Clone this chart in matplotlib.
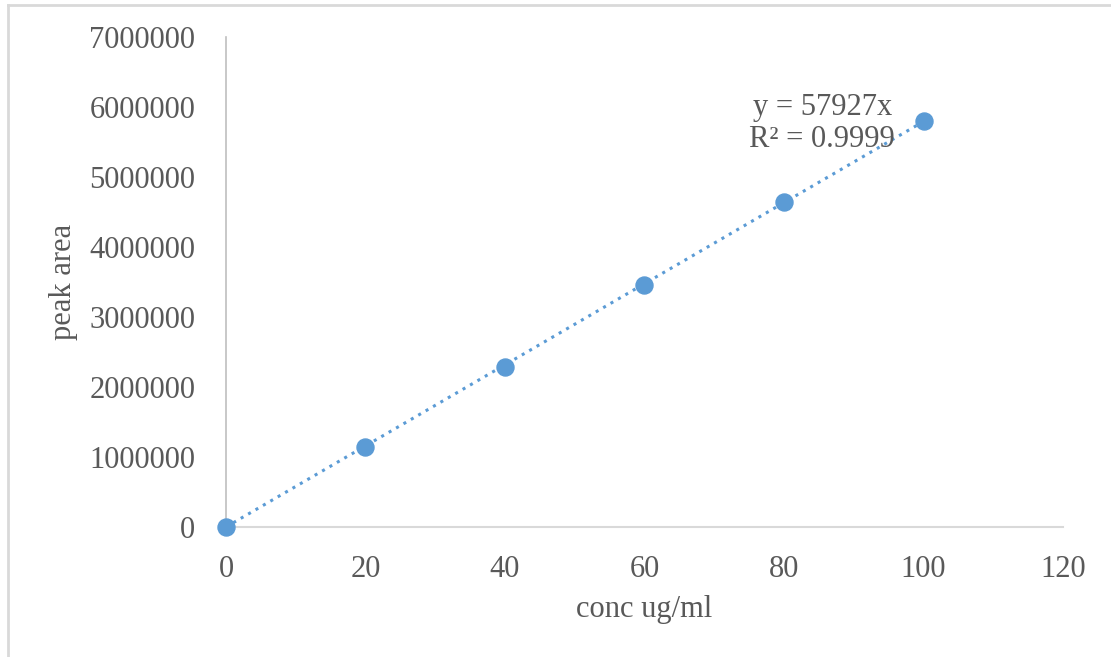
import numpy as np
import matplotlib
matplotlib.use('Agg')
import matplotlib.pyplot as plt
from matplotlib.lines import Line2D

# datos de la curva de calibración
conc = [0, 20, 40, 60, 80, 100]
area = [0, 1140000, 2285000, 3450000, 4640000, 5800000]
pendiente = 57927
r2 = 0.9999
xticks = [0, 20, 40, 60, 80, 100, 120]
yticks = [0, 1000000, 2000000, 3000000, 4000000, 5000000, 6000000, 7000000]

plt.rcParams['font.family'] = ['Liberation Serif', 'DejaVu Serif']
gris = '#595959'
azul = '#5B9BD5'

fig = plt.figure(figsize=(11.11, 6.57), dpi=100)
ax = fig.add_axes([0.2034, 0.1979, 0.7534, 0.7458])

# línea de tendencia por el origen
xt = np.array([0, 100])
ax.plot(xt, pendiente * xt, color=azul, lw=2.2, ls=(0, (1, 1.8)), clip_on=False)
ax.scatter(conc, area, s=150, color=azul, zorder=3, clip_on=False)

ax.set_xlim(0, 120)
ax.set_ylim(0, 7000000)
ax.set_xticks(xticks)
ax.set_yticks(yticks)
ax.set_xticklabels([str(v) for v in xticks])
ax.set_yticklabels([str(v) for v in yticks])
ax.tick_params(length=0, labelsize=22, labelcolor=gris)
ax.tick_params(axis='x', pad=20)
ax.tick_params(axis='y', pad=22)

for s in ['top', 'right']:
    ax.spines[s].set_visible(False)
ax.spines['left'].set_color('#BFBFBF')
ax.spines['bottom'].set_color('#D9D9D9')
ax.spines['left'].set_linewidth(1.2)
ax.spines['bottom'].set_linewidth(1.5)

ax.set_xlabel('conc ug/ml', fontsize=22, color=gris, labelpad=8)
ax.set_ylabel('peak area', fontsize=22, color=gris, labelpad=8)

ax.text(85.5, 5760000, 'y = %dx\nR² = %.4f' % (pendiente, r2), ha='center', va='center',
        fontsize=22, color=gris, linespacing=1.15)

# marco de la figura
fig.add_artist(Line2D([0.007, 1.0], [0.993, 0.993], transform=fig.transFigure, color='#D9D9D9', lw=2))
fig.add_artist(Line2D([0.007, 0.007], [0.0, 0.993], transform=fig.transFigure, color='#D9D9D9', lw=2))

fig.savefig('out.png', dpi=100)
